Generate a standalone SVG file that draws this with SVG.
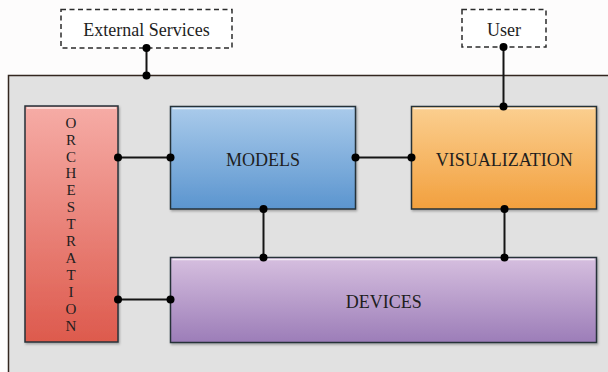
<svg xmlns="http://www.w3.org/2000/svg" width="608" height="372" viewBox="0 0 608 372">
<defs>
<linearGradient id="gOrch" x1="0" y1="0" x2="0" y2="1"><stop offset="0" stop-color="#f6aca6"/><stop offset="1" stop-color="#dd5a4d"/></linearGradient>
<linearGradient id="gMod" x1="0" y1="0" x2="0" y2="1"><stop offset="0" stop-color="#aacbeb"/><stop offset="1" stop-color="#5b95cf"/></linearGradient>
<linearGradient id="gVis" x1="0" y1="0" x2="0" y2="1"><stop offset="0" stop-color="#fbcf90"/><stop offset="1" stop-color="#f2a03e"/></linearGradient>
<linearGradient id="gDev" x1="0" y1="0" x2="0" y2="1"><stop offset="0" stop-color="#d6bfdf"/><stop offset="1" stop-color="#9c7db8"/></linearGradient>
<filter id="sh" x="-5%" y="-5%" width="110%" height="115%"><feDropShadow dx="1" dy="1.5" stdDeviation="1" flood-color="#000" flood-opacity="0.3"/></filter>
</defs>
<style>
.box{stroke:#263238;stroke-width:1.5;filter:url(#sh)}
.hl{stroke:#ffffff;stroke-opacity:0.7;stroke-width:1.5}
.lbl{font-family:"Liberation Serif","Times New Roman",serif;font-size:18px;fill:#1e1e1e;text-anchor:middle}
.ch{font-size:15px}
.dash{fill:#ffffff;stroke:#2b2b2b;stroke-width:1.5;stroke-dasharray:5 3.5}
.ln{stroke:#141414;stroke-width:2;fill:none}
.dot{fill:#000}
</style>
<rect x="0" y="0" width="608" height="372" fill="#fdfcfc"/>
<g id="container">
<rect x="8.5" y="75.5" width="610" height="310" fill="#e1e1e1" stroke="#33261f" stroke-width="1.5"/>
</g>
<g id="external-services">
<rect class="dash" x="61" y="9.5" width="171" height="38.5"/>
<text class="lbl" x="146.5" y="36">External Services</text>
</g>
<g id="user">
<rect class="dash" x="462" y="9.5" width="84" height="37.5"/>
<text class="lbl" x="504" y="36">User</text>
</g>
<g id="orchestration">
<rect class="box" x="25" y="106" width="93" height="236" fill="url(#gOrch)"/>
<line class="hl" x1="27" y1="108" x2="116" y2="108"/>
<text class="lbl ch" x="71" y="127.5">O</text>
<text class="lbl ch" x="71" y="144.5">R</text>
<text class="lbl ch" x="71" y="161.5">C</text>
<text class="lbl ch" x="71" y="178.4">H</text>
<text class="lbl ch" x="71" y="195.4">E</text>
<text class="lbl ch" x="71" y="212.3">S</text>
<text class="lbl ch" x="71" y="229.3">T</text>
<text class="lbl ch" x="71" y="246.2">R</text>
<text class="lbl ch" x="71" y="263.2">A</text>
<text class="lbl ch" x="71" y="280.1">T</text>
<text class="lbl ch" x="71" y="297.1">I</text>
<text class="lbl ch" x="71" y="314">O</text>
<text class="lbl ch" x="71" y="331">N</text>
</g>
<g id="models">
<rect class="box" x="170.5" y="106.5" width="185" height="102.5" fill="url(#gMod)"/>
<line class="hl" x1="172.5" y1="108.5" x2="353.5" y2="108.5"/>
<text class="lbl" x="263" y="166">MODELS</text>
</g>
<g id="visualization">
<rect class="box" x="411.5" y="106.5" width="185" height="102.5" fill="url(#gVis)"/>
<line class="hl" x1="413.5" y1="108.5" x2="594.5" y2="108.5"/>
<text class="lbl" x="504.3" y="166">VISUALIZATION</text>
</g>
<g id="devices">
<rect class="box" x="170.5" y="257.5" width="426" height="85" fill="url(#gDev)"/>
<line class="hl" x1="172.5" y1="259.5" x2="594.5" y2="259.5"/>
<text class="lbl" x="383.7" y="308">DEVICES</text>
</g>
<g id="connectors">
<line class="ln" x1="146.5" y1="48" x2="146.5" y2="75.5"/>
<line class="ln" x1="503.5" y1="47" x2="503.5" y2="106.5"/>
<line class="ln" x1="118" y1="157.5" x2="170.5" y2="157.5"/>
<line class="ln" x1="118" y1="299.5" x2="170.5" y2="299.5"/>
<line class="ln" x1="355.5" y1="157.5" x2="411.5" y2="157.5"/>
<line class="ln" x1="263.5" y1="209" x2="263.5" y2="257.5"/>
<line class="ln" x1="504.5" y1="209" x2="504.5" y2="257.5"/>
<circle class="dot" cx="146.5" cy="48" r="4"/>
<circle class="dot" cx="146.5" cy="75.5" r="4"/>
<circle class="dot" cx="503.5" cy="47" r="4"/>
<circle class="dot" cx="503.5" cy="106.5" r="4"/>
<circle class="dot" cx="118" cy="157.5" r="4"/>
<circle class="dot" cx="170.5" cy="157.5" r="4"/>
<circle class="dot" cx="118" cy="299.5" r="4"/>
<circle class="dot" cx="170.5" cy="299.5" r="4"/>
<circle class="dot" cx="355.5" cy="157.5" r="4"/>
<circle class="dot" cx="411.5" cy="157.5" r="4"/>
<circle class="dot" cx="263.5" cy="209" r="4"/>
<circle class="dot" cx="263.5" cy="257.5" r="4"/>
<circle class="dot" cx="504.5" cy="209" r="4"/>
<circle class="dot" cx="504.5" cy="257.5" r="4"/>
</g>
</svg>
